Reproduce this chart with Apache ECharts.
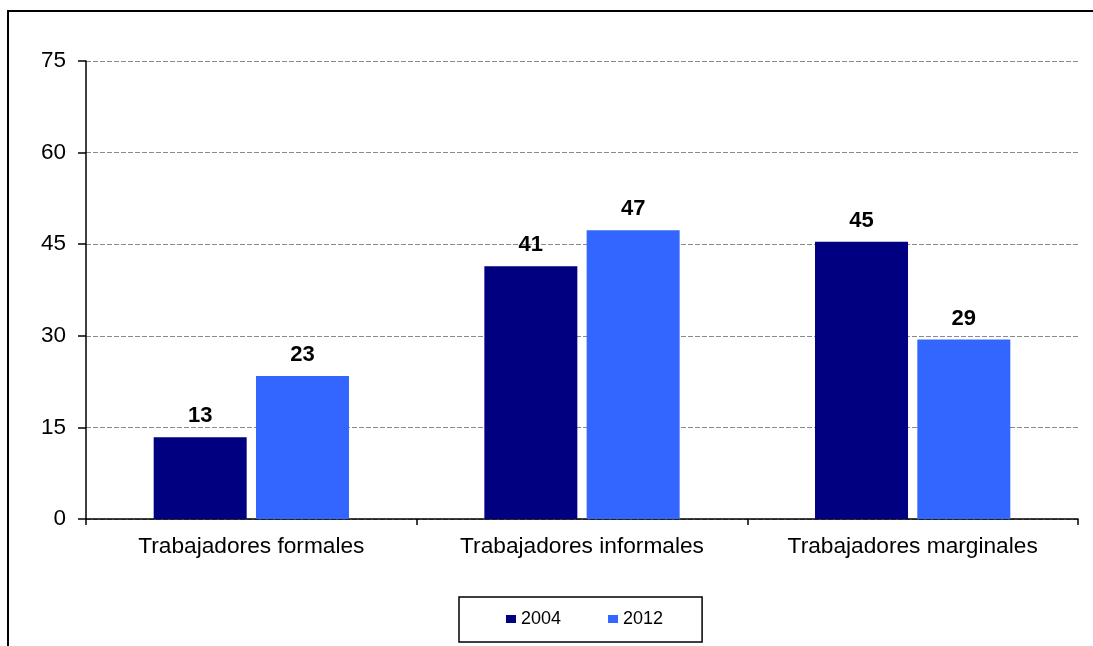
<!DOCTYPE html>
<html>
<head>
<meta charset="utf-8">
<script src="https://cdn.jsdelivr.net/npm/echarts@6/dist/echarts.min.js"></script>
<style>
  html, body { margin: 0; padding: 0; background: #fff; }
  #chart { width: 1093px; height: 646px; }
</style>
</head>
<body>
<div id="chart"></div>
<script>
// Categories and yearly shares (%)
const categories = ['Trabajadores formales', 'Trabajadores informales', 'Trabajadores marginales'];
const values2004 = [13.4, 41.4, 45.4];
const values2012 = [23.4, 47.3, 29.4];
const seriesNames = ['2004', '2012'];
const yTicks = { min: 0, max: 75, interval: 15 };

const FONT = '"Liberation Sans", Arial, sans-serif';
const chart = echarts.init(document.getElementById('chart'), null, { renderer: 'canvas' });

const valueLabel = {
  show: true,
  position: 'top',
  distance: 10,
  color: '#000',
  fontFamily: FONT,
  fontSize: 22,
  fontWeight: 'bold',
  formatter: p => Math.round(p.value)
};

chart.setOption({
  animation: false,
  backgroundColor: '#fff',
  graphic: [{
    type: 'rect',
    shape: { x: 8, y: 11, width: 1200, height: 800 },
    style: { fill: 'none', stroke: '#000', lineWidth: 2 },
    silent: true
  }],
  grid: { left: 86, right: 15, top: 61, bottom: 127, containLabel: false },
  legend: {
    data: seriesNames,
    left: 459,
    top: 597,
    padding: [13, 39, 14, 47],
    itemGap: 47,
    itemWidth: 10,
    itemHeight: 8,
    icon: 'rect',
    borderColor: '#000',
    borderWidth: 1.5,
    textStyle: { color: '#000', fontFamily: FONT, fontSize: 18 }
  },
  xAxis: {
    type: 'category',
    data: categories,
    axisLine: { lineStyle: { color: '#000', width: 1.5 } },
    axisTick: { show: true, length: 6, lineStyle: { color: '#000', width: 1.5 } },
    axisLabel: { color: '#000', fontFamily: FONT, fontSize: 22.7, margin: 16 }
  },
  yAxis: {
    type: 'value',
    min: yTicks.min,
    max: yTicks.max,
    interval: yTicks.interval,
    axisLine: { show: true, lineStyle: { color: '#000', width: 1.5 } },
    axisTick: { show: true, length: 8, lineStyle: { color: '#000', width: 1.5 } },
    axisLabel: { color: '#000', fontFamily: FONT, fontSize: 22.5, margin: 20 },
    splitLine: { lineStyle: { color: '#8a8a8a', width: 1, type: [5, 2] } }
  },
  series: [
    {
      name: seriesNames[0],
      type: 'bar',
      data: values2004,
      barWidth: 93,
      barGap: '10%',
      itemStyle: { color: '#000080' },
      label: valueLabel
    },
    {
      name: seriesNames[1],
      type: 'bar',
      data: values2012,
      barWidth: 93,
      barGap: '10%',
      itemStyle: { color: '#3366FF' },
      label: valueLabel
    }
  ]
});
</script>
</body>
</html>
